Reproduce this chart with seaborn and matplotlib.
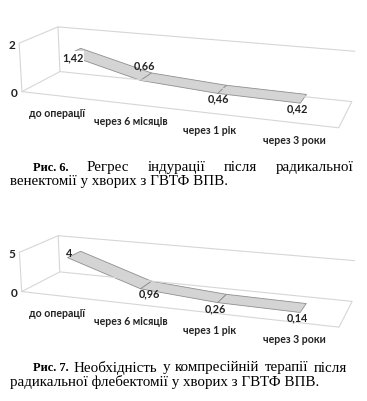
import matplotlib

matplotlib.use("Agg")

import matplotlib.pyplot as plt
import numpy as np
import seaborn as sns
from mpl_toolkits.mplot3d import proj3d
from mpl_toolkits.mplot3d.art3d import Poly3DCollection

# chart data
CATEGORIES = ["до операції", "через 6 місяців", "через 1 рік", "через 3 роки"]
INDURATION = [1.42, 0.66, 0.46, 0.42]
COMPRESSION = [4, 0.96, 0.26, 0.14]
INDURATION_TICKS = [0, 2]
COMPRESSION_TICKS = [0, 5]

W, H = 367, 402
# camera fitted to the floor corners of the original Excel 3-D line charts
ELEV, AZIM, FOCAL = 15.7, -70.2, 0.396

sns.set_theme(style="white")
plt.rcParams["font.family"] = ["Lato", "DejaVu Sans"]
FRAME = "#d6d6d6"
RIBBON_FACE = sns.color_palette("Greys", 10)[2]
RIBBON_EDGE = "#8f8f8f"
INK = "#222222"
SERIF = ["Liberation Serif", "DejaVu Serif"]


def fmt(v):
    return f"{v:g}".replace(".", ",")


def hide_extras(ax):
    for t in (ax.title, ax._left_title, ax._right_title):
        t.set_visible(False)
    for axis in (ax.xaxis, ax.yaxis, ax.zaxis):
        axis.label.set_visible(False)
        axis.offsetText.set_visible(False)
        axis.set_ticks([])


def label(ax, x, y, z, text, dx, dy, ha="center", va="center", size=7.8, boxed=False):
    px, py, _ = proj3d.proj_transform(x, y, z, ax.get_proj())
    bbox = dict(boxstyle="square,pad=0.05", fc="white", ec="none") if boxed else None
    ax.annotate(text, xy=(px, py), xytext=(dx, -dy), textcoords="offset pixels",
                ha=ha, va=va, fontsize=size, fontweight="bold", color=INK, bbox=bbox)


def draw_chart(fig, center_x, center_y, values, ticks, box, zoom, label_offsets):
    side = W / H
    ax = fig.add_axes([(center_x - W / 2) / W, 1 - center_y / H - side / 2, 1.0, side],
                      projection="3d")
    ax.set_proj_type("persp", focal_length=FOCAL)
    ax.view_init(elev=ELEV, azim=AZIM)
    ax.set_box_aspect(box, zoom=zoom)
    n = len(values)
    x0, x1 = -0.5, n - 0.5
    z0, z1 = ticks[0], ticks[-1]
    ax.set_xlim(x0, x1)
    ax.set_ylim(0, 1)
    ax.set_zlim(z0, z1)
    ax.set_axis_off()
    ax.patch.set_alpha(0)
    hide_extras(ax)

    # floor, left wall and the top gridline on the back wall
    kw = dict(color=FRAME, lw=0.8)
    ax.plot([x0, x1, x1, x0, x0], [0, 0, 1, 1, 0], [z0] * 5, **kw)
    ax.plot([x0, x0, x0, x0], [0, 0, 1, 1], [z0, z1, z1, z0], **kw)
    ax.plot([x0, x1], [1, 1], [z1, z1], **kw)

    xs = np.arange(n)
    y_front, y_back = 0.32, 0.68
    quads = []
    for i in range(n - 1):
        quads.append([
            (xs[i], y_front, values[i]),
            (xs[i + 1], y_front, values[i + 1]),
            (xs[i + 1], y_back, values[i + 1]),
            (xs[i], y_back, values[i]),
        ])
    ribbon = Poly3DCollection(quads, facecolor=RIBBON_FACE, edgecolor=RIBBON_EDGE, linewidth=0.6)
    ax.add_collection3d(ribbon)

    for t in ticks:
        label(ax, x0, 0, t, str(t), -4, 1, ha="right", size=8.5)

    for i, cat in enumerate(CATEGORIES):
        label(ax, xs[i], 0, z0, cat, 0, 11, va="top", size=7.6)

    for i, v in enumerate(values):
        dx, dy, boxed = label_offsets[i]
        label(ax, xs[i], y_front, v, fmt(v), dx, dy, boxed=boxed)
    return ax


def justify(fig, words, x0, x1, y):
    renderer = fig.canvas.get_renderer()
    texts = []
    for word, weight, size in words:
        texts.append(fig.text(x0 / W, 1 - y / H, word, fontsize=size, fontweight=weight,
                              family=SERIF, va="center", ha="left", color="black"))
    widths = [t.get_window_extent(renderer).width for t in texts]
    gap = (x1 - x0 - sum(widths)) / (len(texts) - 1)
    x = x0
    for t, w in zip(texts, widths):
        t.set_x(x / W)
        x += w + gap


fig = plt.figure(figsize=(W / 100, H / 100), dpi=100)
fig.patch.set_facecolor("white")

draw_chart(fig, 178.6, 78, INDURATION, INDURATION_TICKS, (6.325, 1.584, 1.0), 0.8947,
           [(5, 2, True), (4, -16, False), (1, 4, False), (-3, 5, False)])
draw_chart(fig, 178.6, 282.5, COMPRESSION, COMPRESSION_TICKS, (6.325, 1.584, 0.81), 0.8912,
           [(2, -5, False), (9, 4, False), (-2, 5, False), (-3, 4, False)])

BOLD, BODY = 9, 10.8
justify(fig, [("Рис. 6.", "bold", BOLD), ("Регрес", "normal", BODY), ("індурації", "normal", BODY),
              ("після", "normal", BODY), ("радикальної", "normal", BODY)], 33, 354, 168)
fig.text(10 / W, 1 - 182 / H, "венектомії у хворих з ГВТФ ВПВ.", fontsize=BODY,
         family=SERIF, va="center", ha="left", color="black")
justify(fig, [("Рис. 7.", "bold", BOLD), ("Необхідність", "normal", BODY), ("у", "normal", BODY),
              ("компресійній", "normal", BODY), ("терапії", "normal", BODY),
              ("після", "normal", BODY)], 33, 347, 368)
fig.text(10 / W, 1 - 382 / H, "радикальної флебектомії у хворих з ГВТФ ВПВ.", fontsize=BODY,
         family=SERIF, va="center", ha="left", color="black")

fig.savefig("out.png", dpi=100)
